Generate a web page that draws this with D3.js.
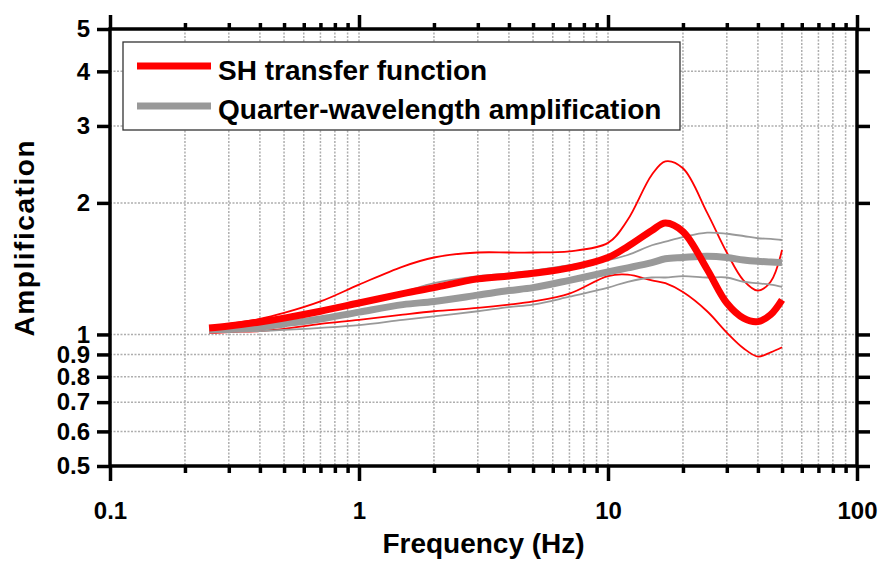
<!DOCTYPE html>
<html>
<head>
<meta charset="utf-8">
<script src="https://cdn.jsdelivr.net/npm/d3@7"></script>
<style>
  body { margin: 0; background: #fff; }
  text { font-family: "Liberation Sans", Arial, Helvetica, sans-serif; font-weight: bold; }
</style>
</head>
<body>
<div id="chart"></div>
<script>
const freq = [0.25, 0.3, 0.4, 0.5, 0.7, 1, 1.5, 2, 3, 4, 5, 7, 10, 12, 15, 17, 20, 25, 30, 35, 40, 45, 50];

// SH transfer function: median and bounds
const shMed = [1.035, 1.046, 1.068, 1.09, 1.13, 1.18, 1.24, 1.28, 1.34, 1.36, 1.38, 1.42, 1.50, 1.59, 1.73, 1.80, 1.72, 1.41, 1.18, 1.09, 1.07, 1.11, 1.20];
const shHi  = [1.035, 1.057, 1.085, 1.12, 1.19, 1.30, 1.43, 1.50, 1.54, 1.54, 1.54, 1.55, 1.62, 1.83, 2.32, 2.49, 2.40, 1.90, 1.54, 1.33, 1.26, 1.32, 1.56];
const shLo  = [1.008, 1.013, 1.018, 1.03, 1.057, 1.08, 1.11, 1.13, 1.15, 1.17, 1.19, 1.24, 1.36, 1.37, 1.33, 1.31, 1.25, 1.13, 1.01, 0.93, 0.89, 0.91, 0.935];

// quarter-wavelength amplification: median and bounds
const qwlMed = [1.024, 1.03, 1.04, 1.057, 1.085, 1.125, 1.17, 1.19, 1.23, 1.26, 1.28, 1.33, 1.39, 1.42, 1.46, 1.49, 1.50, 1.51, 1.50, 1.48, 1.47, 1.465, 1.46];
const qwlHi  = [1.03, 1.04, 1.068, 1.09, 1.13, 1.18, 1.25, 1.31, 1.36, 1.38, 1.40, 1.44, 1.48, 1.52, 1.60, 1.63, 1.67, 1.71, 1.70, 1.68, 1.66, 1.655, 1.645];
const qwlLo  = [1.013, 1.013, 1.018, 1.024, 1.035, 1.05, 1.08, 1.10, 1.13, 1.155, 1.17, 1.22, 1.28, 1.32, 1.35, 1.35, 1.36, 1.35, 1.35, 1.32, 1.31, 1.30, 1.285];

const xMajor = [0.1, 1, 10, 100];
const xMinor = [0.2, 0.3, 0.4, 0.5, 0.6, 0.7, 0.8, 0.9, 2, 3, 4, 5, 6, 7, 8, 9, 20, 30, 40, 50, 60, 70, 80, 90];
const yTicks = [0.5, 0.6, 0.7, 0.8, 0.9, 1, 2, 3, 4, 5];
const legendLabels = ["SH transfer function", "Quarter-wavelength amplification"];

const W = 881, H = 561;
const margin = {top: 29, right: 24, bottom: 95, left: 110};
const width = W - margin.left - margin.right,
      height = H - margin.top - margin.bottom;

const svg = d3.select("#chart").append("svg")
    .attr("width", W)
    .attr("height", H)
  .append("g")
    .attr("transform", `translate(${margin.left}, ${margin.top})`);

const x = d3.scaleLog().domain([0.1, 100]).range([0, width]);
const y = d3.scaleLog().domain([0.5, 5]).range([height, 0]);

// grid (dotted grey)
const grid = svg.append("g").attr("stroke", "#9a9a9a").attr("stroke-width", 1.5).attr("stroke-dasharray", "2,1.5").attr("opacity", 0.8);
grid.selectAll(".gx").data(xMinor.concat(xMajor.slice(1, 3)))
  .enter().append("line")
    .attr("x1", d => x(d)).attr("x2", d => x(d))
    .attr("y1", 0).attr("y2", height);
grid.selectAll(".gy").data(yTicks.slice(1, -1))
  .enter().append("line")
    .attr("x1", 0).attr("x2", width)
    .attr("y1", d => y(d)).attr("y2", d => y(d));

// curves
const line = d3.line()
    .x(d => x(d[0]))
    .y(d => y(d[1]))
    .curve(d3.curveCatmullRom.alpha(0.5));

function drawCurve(vals, color, w) {
  svg.append("path")
    .datum(freq.map((f, i) => [f, vals[i]]))
    .attr("fill", "none")
    .attr("stroke", color)
    .attr("stroke-width", w)
    .attr("stroke-linejoin", "round")
    .attr("d", line);
}
drawCurve(shHi, "#ff0000", 1.8);
drawCurve(shLo, "#ff0000", 1.8);
drawCurve(qwlHi, "#999999", 1.8);
drawCurve(qwlLo, "#999999", 1.8);
drawCurve(qwlMed, "#999999", 7);
drawCurve(shMed, "#ff0000", 7);

// axes: major and minor ticks on all four sides
function styleAxis(g) {
  g.select(".domain").remove();
  g.selectAll("line").attr("stroke", "#000").attr("stroke-width", 3.5);
  g.selectAll("text").attr("fill", "#000").style("font-size", "24px");
}

svg.append("g").attr("transform", `translate(0, ${height})`)
    .call(d3.axisBottom(x).tickValues(xMajor).tickSize(15).tickPadding(21).tickFormat(d3.format("~g")))
    .call(styleAxis);
svg.append("g").attr("transform", `translate(0, ${height})`)
    .call(d3.axisBottom(x).tickValues(xMinor).tickSize(7).tickFormat(""))
    .call(styleAxis);
svg.append("g")
    .call(d3.axisTop(x).tickValues(xMajor).tickSize(14).tickFormat(""))
    .call(styleAxis);
svg.append("g")
    .call(d3.axisTop(x).tickValues(xMinor).tickSize(6).tickFormat(""))
    .call(styleAxis);
svg.append("g")
    .call(d3.axisLeft(y).tickValues(yTicks).tickSize(13).tickPadding(7).tickFormat(d3.format("~g")))
    .call(styleAxis);
svg.append("g").attr("transform", `translate(${width}, 0)`)
    .call(d3.axisRight(y).tickValues(yTicks).tickSize(13).tickFormat(""))
    .call(styleAxis);

// frame
svg.append("rect")
    .attr("width", width).attr("height", height)
    .attr("fill", "none").attr("stroke", "#000").attr("stroke-width", 3.5);

// axis titles
svg.append("text")
    .attr("x", width / 2).attr("y", height + 87)
    .attr("text-anchor", "middle")
    .style("font-size", "28px")
    .text("Frequency (Hz)");
svg.append("text")
    .attr("transform", `translate(${-76}, ${height / 2 - 9}) rotate(-90)`)
    .attr("text-anchor", "middle")
    .style("font-size", "28px")
    .attr("textLength", 196)
    .text("Amplification");

// legend
const legend = svg.append("g").attr("transform", "translate(13, 13)");
legend.append("rect")
    .attr("width", 557).attr("height", 88)
    .attr("fill", "#fff").attr("stroke", "#333").attr("stroke-width", 1.3);
const legendColors = ["#ff0000", "#999999"];
legendLabels.forEach((lab, i) => {
  legend.append("line")
    .attr("x1", 14).attr("x2", 88)
    .attr("y1", 24 + i * 40).attr("y2", 24 + i * 40)
    .attr("stroke", legendColors[i]).attr("stroke-width", 7);
  legend.append("text")
    .attr("x", 95).attr("y", 38 + i * 39)
    .style("font-size", "28px")
    .text(lab);
});
</script>
</body>
</html>
